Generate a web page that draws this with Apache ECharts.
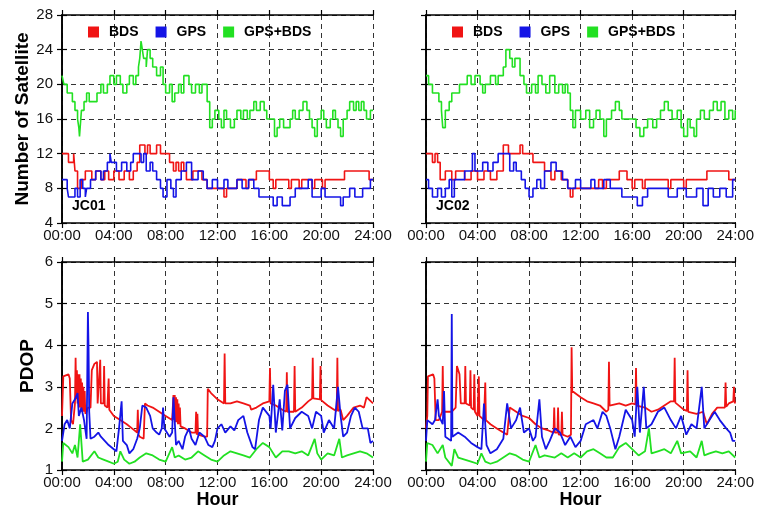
<!DOCTYPE html>
<html><head><meta charset="utf-8">
<script src="https://cdn.jsdelivr.net/npm/echarts@6/dist/echarts.min.js"></script>
<style>html,body{margin:0;padding:0;background:#fff}#c{width:757px;height:515px}</style>
</head><body><div id="c"></div>
<script>
// ---------- data (hours, value) ----------
const seriesNames = ['BDS', 'GPS', 'GPS+BDS'];
const stations = ['JC01', 'JC02'];
const hourTicks = [0, 4, 8, 12, 16, 20, 24];

// Number of satellites, JC01
const satBDS1 = [[0,12],[0.5,11],[0.9,12],[1.0,10],[1.2,8],[1.5,9],[1.8,10],[2.3,9],[2.6,10],[3.0,9],[3.3,10],[3.6,9],[4.0,10],[4.4,9],[4.8,10],[5.2,9],[5.5,10],[5.8,11],[6.0,13],[6.4,12],[6.6,13],[6.8,12],[7.3,13],[7.6,12],[8.3,11],[8.6,10],[8.8,11],[9.0,10],[9.2,11],[9.4,10],[9.6,9],[10.1,10],[10.8,9],[11.2,8],[12.5,7],[12.7,8],[13.5,9],[14.2,8],[14.4,9],[15.0,10],[16.0,9],[16.3,8],[16.5,9],[17.5,8],[17.7,9],[18.3,8],[18.5,9],[19.3,8],[19.5,9],[20.1,8],[20.3,9],[21.8,10],[23.7,9],[24,9]];
const satGPS1 = [[0,9],[0.4,8],[0.5,7],[1.0,8],[1.2,7],[1.4,9],[1.6,8],[1.8,7],[1.9,8],[2.2,9],[2.6,10],[3.0,9],[3.2,10],[3.5,11],[3.7,12],[3.8,11],[4.2,10],[4.6,11],[5.0,10],[5.3,11],[5.5,12],[6.1,11],[6.3,12],[6.5,10],[6.8,11],[7.0,10],[7.3,9],[7.6,8],[7.8,7],[8.1,9],[8.4,8],[8.6,7],[8.8,9],[9.2,10],[9.6,11],[10.0,9],[10.5,10],[10.9,9],[11.2,8],[11.6,9],[12.0,8],[12.5,9],[12.8,8],[13.5,9],[13.9,8],[14.4,9],[14.8,8],[15.2,7],[16.0,7],[16.3,6],[16.6,7],[17.0,6],[17.6,7],[18.0,8],[18.5,8],[19.0,9],[19.3,7],[20.0,8],[20.3,7],[21.0,7],[21.5,6],[21.7,7],[22.2,8],[22.6,7],[23.2,8],[23.8,9],[24,9]];
const satALL1 = [[0,21],[0.15,20],[0.4,19],[0.8,18],[1.0,17],[1.2,16],[1.3,15],[1.35,14],[1.45,16],[1.5,17],[1.7,18],[1.9,19],[2.1,18],[2.5,18],[2.7,19],[3.0,20],[3.2,19],[3.5,20],[3.7,21],[4.0,20],[4.2,21],[4.5,20],[4.7,19],[5.0,20],[5.2,21],[5.5,20],[5.7,21],[5.9,22],[6.0,23],[6.1,25],[6.2,24],[6.3,23],[6.5,22],[6.6,24],[6.8,23],[7.0,22],[7.3,21],[7.6,22],[7.8,20],[8.0,19],[8.3,20],[8.5,18],[8.7,19],[9.0,20],[9.2,19],[9.4,21],[9.8,20],[10.0,19],[10.3,20],[10.6,19],[10.8,20],[11.2,18],[11.4,15],[11.6,16],[11.8,17],[12.1,16],[12.3,15],[12.5,17],[12.7,16],[13.0,15],[13.3,16],[13.5,17],[13.8,16],[14.0,17],[14.3,16],[14.5,17],[14.8,18],[15.0,17],[15.3,18],[15.6,17],[15.8,16],[16.2,16],[16.4,14],[16.6,15],[16.8,16],[17.1,15],[17.6,16],[17.8,17],[18.0,16],[18.3,17],[18.6,18],[18.9,17],[19.1,16],[19.3,15],[19.5,14],[19.7,16],[20.0,17],[20.2,16],[20.4,15],[20.7,16],[20.9,17],[21.1,16],[21.3,15],[21.5,14],[21.7,16],[22.0,17],[22.2,18],[22.5,17],[22.7,18],[22.9,17],[23.1,18],[23.3,17],[23.5,16],[23.8,17],[24,17]];

// Number of satellites, JC02
const satBDS2 = [[0,12],[0.5,11],[0.7,12],[0.9,11],[1.1,9],[1.5,10],[2.0,9],[2.3,10],[3.0,9],[3.5,10],[4.0,9],[4.5,10],[5.0,9],[5.5,10],[6.0,13],[6.4,12],[6.8,12],[7.3,13],[7.5,12],[8.3,11],[8.6,11],[9.2,10],[9.7,9],[10.0,10],[10.5,9],[11.0,8],[11.2,7],[11.4,8],[13.4,9],[13.7,8],[14.0,9],[15.0,10],[15.6,9],[16.0,8],[16.2,9],[16.8,8],[17.0,9],[18.8,8],[19.0,9],[20.0,8],[20.2,9],[21.8,10],[23.5,9],[24,9]];
const satGPS2 = [[0,9],[0.2,8],[0.5,7],[0.9,8],[1.2,7],[1.5,8],[1.8,9],[2.0,7],[2.2,9],[3.0,10],[3.6,12],[3.8,10],[4.4,11],[4.8,10],[5.2,11],[5.6,12],[6.5,10],[6.8,11],[7.0,10],[7.4,9],[7.7,8],[8.0,7],[8.3,8],[8.6,9],[8.9,8],[9.2,10],[9.7,11],[10.1,10],[10.6,9],[11.0,8],[11.6,9],[12.0,8],[12.8,9],[13.1,8],[13.8,9],[14.3,8],[15.2,7],[16.0,7],[16.4,6],[16.8,7],[17.2,8],[18.0,8],[18.8,7],[19.5,8],[20.2,7],[21.0,8],[21.5,6],[21.9,8],[22.3,7],[22.8,8],[23.3,7],[23.8,9],[24,9]];
const satALL2 = [[0,21],[0.2,20],[0.5,19],[1.0,18],[1.2,17],[1.3,15],[1.5,17],[1.8,18],[2.0,19],[2.4,19],[2.6,20],[3.0,20],[3.2,21],[3.5,20],[3.8,21],[4.2,20],[4.4,19],[4.6,20],[5.0,21],[5.4,20],[5.6,21],[6.0,22],[6.2,24],[6.5,23],[6.7,22],[6.9,23],[7.3,21],[7.6,20],[7.8,19],[8.2,20],[8.5,19],[8.7,21],[9.0,20],[9.3,19],[9.6,21],[10.0,19],[10.3,20],[10.6,19],[10.8,20],[11.0,19],[11.2,17],[11.4,15],[11.6,17],[12.0,16],[12.4,17],[12.7,15],[13.0,16],[13.2,17],[13.5,16],[13.8,14],[14.0,16],[14.4,17],[14.7,18],[15.0,17],[15.2,16],[16.3,15],[16.6,14],[16.9,15],[17.2,16],[17.6,15],[17.9,16],[18.2,17],[18.5,18],[18.8,17],[19.1,16],[19.5,17],[19.8,15],[20.0,14],[20.3,16],[20.5,15],[20.8,14],[21.0,16],[21.3,17],[21.6,16],[22.0,17],[22.3,18],[22.6,17],[22.9,18],[23.2,16],[23.5,17],[23.8,16],[24,17]];

// PDOP, JC01
const pdopBDS1 = [[0,2.3],[0.08,2.3],[0.1,3.25],[0.5,3.3],[0.6,3.2],[0.7,2.2],[0.85,2.1],[1.0,2.6],[1.05,3.7],[1.1,2.7],[1.15,3.4],[1.2,2.6],[1.25,3.3],[1.3,2.5],[1.35,3.3],[1.4,2.5],[1.45,3.2],[1.5,2.4],[1.55,3.1],[1.6,2.4],[1.65,3.0],[1.7,2.4],[1.75,2.9],[1.8,2.35],[1.9,2.4],[2.0,2.5],[2.2,2.5],[2.3,3.4],[2.5,3.55],[2.7,3.6],[2.75,2.6],[2.9,2.6],[2.95,3.65],[3.0,2.6],[3.2,2.6],[3.25,3.5],[3.3,2.55],[3.5,2.5],[3.6,3.2],[3.65,2.45],[4.0,2.3],[4.5,2.2],[5.0,2.1],[5.4,2.0],[5.8,1.9],[5.85,2.45],[5.9,1.85],[6.0,1.8],[6.3,1.75],[6.4,2.6],[6.6,2.55],[7.0,2.5],[7.5,2.4],[8.0,2.3],[8.5,2.2],[8.6,2.8],[8.65,2.2],[8.7,2.8],[8.75,2.15],[8.8,2.75],[8.85,2.15],[8.9,2.7],[8.95,2.1],[9.0,2.6],[9.05,2.1],[9.1,2.5],[9.15,2.05],[9.5,2.0],[10.0,1.9],[10.3,1.9],[10.35,2.4],[10.4,1.85],[10.45,2.35],[10.5,1.85],[11.0,1.8],[11.2,1.8],[11.25,2.95],[11.5,2.85],[12.0,2.7],[12.5,2.6],[12.55,3.8],[12.6,2.6],[13.0,2.6],[13.5,2.65],[14.0,2.6],[14.5,2.55],[14.6,2.45],[15.0,2.5],[15.5,2.6],[16.0,2.65],[16.05,3.45],[16.1,2.6],[16.5,2.55],[17.0,2.45],[17.3,2.4],[17.35,3.35],[17.4,2.4],[17.9,2.4],[17.95,3.5],[18.0,2.4],[18.5,2.5],[19.0,2.65],[19.3,2.72],[19.35,3.7],[19.4,2.72],[19.5,2.75],[19.9,2.7],[19.95,3.5],[20.0,2.68],[20.5,2.55],[21.0,2.45],[21.2,2.42],[21.25,3.7],[21.3,2.42],[21.5,2.45],[21.7,2.2],[22.0,2.3],[22.5,2.5],[23.0,2.55],[23.3,2.5],[23.5,2.75],[24,2.6]];
const pdopGPS1 = [[0,1.7],[0.2,2.1],[0.4,2.2],[0.6,2.0],[0.8,2.6],[1.0,2.7],[1.2,2.85],[1.3,2.3],[1.5,2.5],[1.7,2.2],[1.9,1.75],[1.95,1.75],[2.0,4.8],[2.05,3.9],[2.1,2.4],[2.2,1.75],[2.5,1.8],[2.8,1.9],[3.0,1.8],[3.3,1.7],[3.6,1.6],[4.0,1.5],[4.2,1.45],[4.4,2.0],[4.6,2.65],[4.7,1.7],[5.0,1.6],[5.2,1.4],[5.5,1.5],[5.8,1.75],[6.0,2.0],[6.2,2.55],[6.5,2.5],[6.8,2.3],[7.0,2.0],[7.3,1.9],[7.5,1.85],[7.7,2.0],[7.8,2.5],[7.9,2.0],[8.3,1.8],[8.5,1.9],[8.6,2.75],[8.8,1.6],[9.0,1.7],[9.3,1.5],[9.5,1.8],[9.8,2.0],[10.0,1.75],[10.3,1.6],[10.6,1.9],[11.0,1.8],[11.3,1.6],[11.6,1.55],[11.8,1.7],[12.0,2.0],[12.3,2.1],[12.6,1.9],[13.0,2.05],[13.3,1.95],[13.6,2.2],[14.0,2.3],[14.3,1.9],[14.7,1.55],[14.9,1.5],[15.2,2.2],[15.5,2.5],[16.0,2.3],[16.1,2.0],[16.3,3.05],[16.5,1.9],[16.8,2.7],[17.0,1.95],[17.2,2.9],[17.4,3.05],[17.6,2.0],[18.0,2.25],[18.5,2.4],[19.0,2.3],[19.3,2.0],[19.6,2.4],[20.0,2.3],[20.2,1.9],[20.6,2.2],[21.0,2.0],[21.3,3.0],[21.5,2.3],[21.7,1.8],[22.0,1.9],[22.3,2.3],[22.6,2.5],[22.9,2.4],[23.2,2.0],[23.6,2.0],[23.8,1.65],[24,1.7]];
const pdopALL1 = [[0,1.2],[0.1,1.65],[0.5,1.55],[0.8,1.4],[1.0,1.6],[1.2,1.3],[1.4,2.1],[1.6,1.2],[2.0,1.25],[2.5,1.45],[2.8,1.3],[3.2,1.25],[3.6,1.2],[4.0,1.15],[4.3,1.2],[4.5,1.45],[4.8,1.25],[5.2,1.15],[5.6,1.2],[6.0,1.3],[6.5,1.4],[7.0,1.35],[7.5,1.25],[8.0,1.2],[8.5,1.55],[8.7,1.3],[9.0,1.35],[9.5,1.25],[10.0,1.3],[10.5,1.45],[11.0,1.35],[11.5,1.25],[12.0,1.2],[12.5,1.35],[13.0,1.45],[13.5,1.4],[14.0,1.35],[14.5,1.3],[15.0,1.5],[15.5,1.65],[16.0,1.55],[16.5,1.3],[17.0,1.45],[17.5,1.45],[18.0,1.4],[18.5,1.45],[19.0,1.35],[19.5,1.75],[19.7,1.4],[20.0,1.25],[20.5,1.4],[21.0,1.35],[21.4,1.75],[21.6,1.3],[22.0,1.35],[22.5,1.4],[23.0,1.45],[23.5,1.4],[24,1.3]];

// PDOP, JC02
const pdopBDS2 = [[0,2.0],[0.1,2.3],[0.15,3.25],[0.55,3.3],[0.65,3.2],[0.75,2.2],[1.0,2.2],[1.25,2.4],[1.3,3.5],[1.35,2.4],[2.0,2.4],[2.3,2.5],[2.4,3.5],[2.6,3.3],[2.7,2.6],[3.0,2.6],[3.05,3.5],[3.1,2.6],[3.4,2.55],[3.45,3.4],[3.5,2.5],[3.7,2.45],[3.75,3.3],[3.8,2.4],[4.0,2.3],[4.1,3.25],[4.15,2.3],[4.5,2.2],[4.6,3.1],[4.65,2.2],[5.0,2.1],[5.5,2.0],[6.0,1.9],[6.3,1.85],[6.5,2.5],[7.0,2.4],[7.5,2.3],[8.0,2.25],[8.5,2.1],[9.0,2.0],[9.5,1.95],[9.9,1.9],[9.95,2.5],[10.0,1.9],[10.2,1.9],[10.25,2.5],[10.3,1.85],[10.5,1.85],[10.55,2.4],[10.6,1.85],[11.0,1.8],[11.25,1.85],[11.3,3.95],[11.35,2.9],[12.0,2.75],[12.5,2.65],[13.0,2.6],[13.5,2.55],[14.0,2.4],[14.15,2.45],[14.2,3.6],[14.25,2.55],[15.0,2.6],[15.5,2.55],[16.0,2.6],[16.25,2.58],[16.3,3.45],[16.35,2.55],[17.0,2.5],[17.5,2.4],[18.0,2.45],[18.5,2.55],[19.0,2.65],[19.25,2.65],[19.3,3.7],[19.35,2.62],[20.0,2.45],[20.25,2.42],[20.3,3.4],[20.35,2.4],[21.0,2.35],[21.5,2.4],[21.8,2.1],[22.2,2.35],[22.6,2.5],[23.0,2.5],[23.2,2.5],[23.25,3.1],[23.3,2.52],[23.5,2.6],[23.85,2.65],[23.9,3.0],[23.95,2.65],[24,2.6]];
const pdopGPS2 = [[0,1.7],[0.1,2.2],[0.5,2.1],[0.7,2.2],[0.9,2.7],[1.0,2.3],[1.3,2.1],[1.4,2.9],[1.5,1.8],[1.95,1.7],[2.0,4.75],[2.05,1.8],[2.5,1.9],[3.0,1.8],[3.5,1.65],[4.0,1.55],[4.3,1.5],[4.5,2.6],[4.7,1.6],[5.0,1.4],[5.5,1.5],[6.0,1.75],[6.3,2.6],[6.6,2.0],[7.0,2.2],[7.3,2.5],[7.6,1.9],[8.0,2.0],[8.3,1.7],[8.5,1.8],[8.8,2.7],[9.0,1.8],[9.3,1.5],[9.6,1.7],[10.0,2.0],[10.4,1.9],[10.8,1.6],[11.2,1.8],[11.6,1.55],[12.0,1.7],[12.4,2.1],[13.0,2.2],[13.3,2.0],[13.7,2.4],[14.0,2.3],[14.3,2.0],[14.7,1.5],[15.0,1.8],[15.5,2.45],[16.0,2.2],[16.2,1.8],[16.4,3.0],[16.6,1.9],[16.9,3.0],[17.1,2.0],[17.5,2.1],[18.0,2.4],[18.5,2.5],[19.0,2.2],[19.4,2.0],[19.8,2.3],[20.2,1.85],[20.6,2.1],[21.0,2.0],[21.4,3.0],[21.6,2.0],[22.0,2.2],[22.4,2.4],[22.8,2.2],[23.3,2.0],[23.6,1.9],[23.8,1.7],[24,1.7]];
const pdopALL2 = [[0,1.2],[0.1,1.65],[0.5,1.6],[0.9,1.4],[1.3,1.6],[1.5,1.3],[2.0,1.1],[2.2,1.5],[2.5,1.3],[3.0,1.25],[3.5,1.2],[4.0,1.15],[4.3,1.4],[4.6,1.2],[5.0,1.15],[5.5,1.2],[6.0,1.3],[6.5,1.4],[7.0,1.35],[7.5,1.25],[8.0,1.2],[8.5,1.6],[8.8,1.3],[9.2,1.35],[10.0,1.3],[10.5,1.4],[11.0,1.3],[11.5,1.4],[12.0,1.3],[12.5,1.45],[13.0,1.5],[13.5,1.4],[14.0,1.3],[14.5,1.3],[15.0,1.55],[15.5,1.65],[16.0,1.5],[16.5,1.35],[17.0,1.45],[17.3,2.0],[17.5,1.4],[18.0,1.45],[18.5,1.5],[19.0,1.4],[19.5,1.7],[19.8,1.4],[20.5,1.45],[21.0,1.3],[21.4,1.7],[21.6,1.35],[22.0,1.4],[22.5,1.45],[23.0,1.4],[23.5,1.45],[24,1.3]];

// ---------- chart ----------
const colors = ['#f01414', '#1414e6', '#22e022'];
const FONT = 'Liberation Sans';
const grids = [
  {left: 62, top: 15, width: 311, height: 208},
  {left: 426, top: 15, width: 311, height: 208},
  {left: 62, top: 262, width: 311, height: 208},
  {left: 426, top: 262, width: 311, height: 208}
];
const fmtHour = v => (v < 10 ? '0' : '') + v + ':00';
const xAxes = [], yAxes = [];
grids.forEach((g, i) => {
  const top = i < 2;
  const base = {type: 'value', gridIndex: i, min: 0, max: 24, interval: 4,
    axisLine: {show: true, lineStyle: {color: '#000', width: 1.6}},
    axisTick: {show: true, inside: false, length: 5, lineStyle: {color: '#000', width: 1.2}}};
  xAxes.push(Object.assign({}, base, {position: 'bottom',
    axisLabel: {show: true, formatter: fmtHour, fontFamily: FONT, fontSize: 15, color: '#111', margin: 5},
    splitLine: {show: true, lineStyle: {color: '#333', type: [5, 4], width: 1}},
    name: top ? '' : 'Hour', nameLocation: 'middle', nameGap: 20,
    nameTextStyle: {fontFamily: FONT, fontWeight: 'bold', fontSize: 18, color: '#000', verticalAlign: 'top'}}));
  xAxes.push(Object.assign({}, base, {position: 'top', axisLabel: {show: false}, splitLine: {show: false}}));
  const ybase = {type: 'value', gridIndex: i,
    min: top ? 4 : 1, max: top ? 28 : 6, interval: top ? 4 : 1,
    axisLine: {show: true, lineStyle: {color: '#000', width: 1.6}},
    axisTick: {show: true, inside: false, length: 5, lineStyle: {color: '#000', width: 1.2}}};
  const left = i % 2 === 0;
  yAxes.push(Object.assign({}, ybase, {position: 'left',
    axisLabel: {show: left, fontFamily: FONT, fontSize: 15, color: '#111', margin: 9},
    splitLine: {show: true, lineStyle: {color: '#333', type: [5, 4], width: 1}},
    name: left ? (top ? 'Number of Satellite' : 'PDOP') : '', nameLocation: 'middle',
    nameGap: top ? 30 : 25,
    nameTextStyle: {fontFamily: FONT, fontWeight: 'bold', fontSize: 19, color: '#000'}}));
  yAxes.push(Object.assign({}, ybase, {position: 'right', axisLabel: {show: false}, splitLine: {show: false}}));
});

const panelData = [
  [satBDS1, satGPS1, satALL1],
  [satBDS2, satGPS2, satALL2],
  [pdopBDS1, pdopGPS1, pdopALL1],
  [pdopBDS2, pdopGPS2, pdopALL2]
];
const series = [];
panelData.forEach((arr, i) => {
  [2, 0, 1].forEach(k => {
    series.push({
      name: seriesNames[k], type: 'line', xAxisIndex: i * 2, yAxisIndex: i * 2,
      data: arr[k], showSymbol: false, symbol: 'none',
      step: i < 2 ? 'end' : false,
      lineStyle: {color: colors[k], width: i < 2 ? 1.6 : 1.8},
      itemStyle: {color: colors[k]}, z: 3
    });
  });
});

const legendBase = {
  data: seriesNames, icon: 'rect', itemWidth: 11, itemHeight: 11, itemGap: 17,
  textStyle: {fontFamily: FONT, fontWeight: 'bold', fontSize: 14, color: '#000', padding: [0, 0, 0, 5]},
  selectedMode: false, top: 20, padding: 5
};

const option = {
  animation: false,
  backgroundColor: '#fff',
  color: colors,
  grid: grids,
  xAxis: xAxes,
  yAxis: yAxes,
  legend: [Object.assign({left: 83}, legendBase), Object.assign({left: 447}, legendBase)],
  graphic: stations.map((s, i) => ({
    type: 'text', left: grids[i].left + 10, top: 199,
    style: {text: s, font: 'bold 14px "Liberation Sans"', fill: '#000'}
  })),
  series: series
};
echarts.init(document.getElementById('c'), null, {renderer: 'canvas'}).setOption(option);
</script></body></html>
